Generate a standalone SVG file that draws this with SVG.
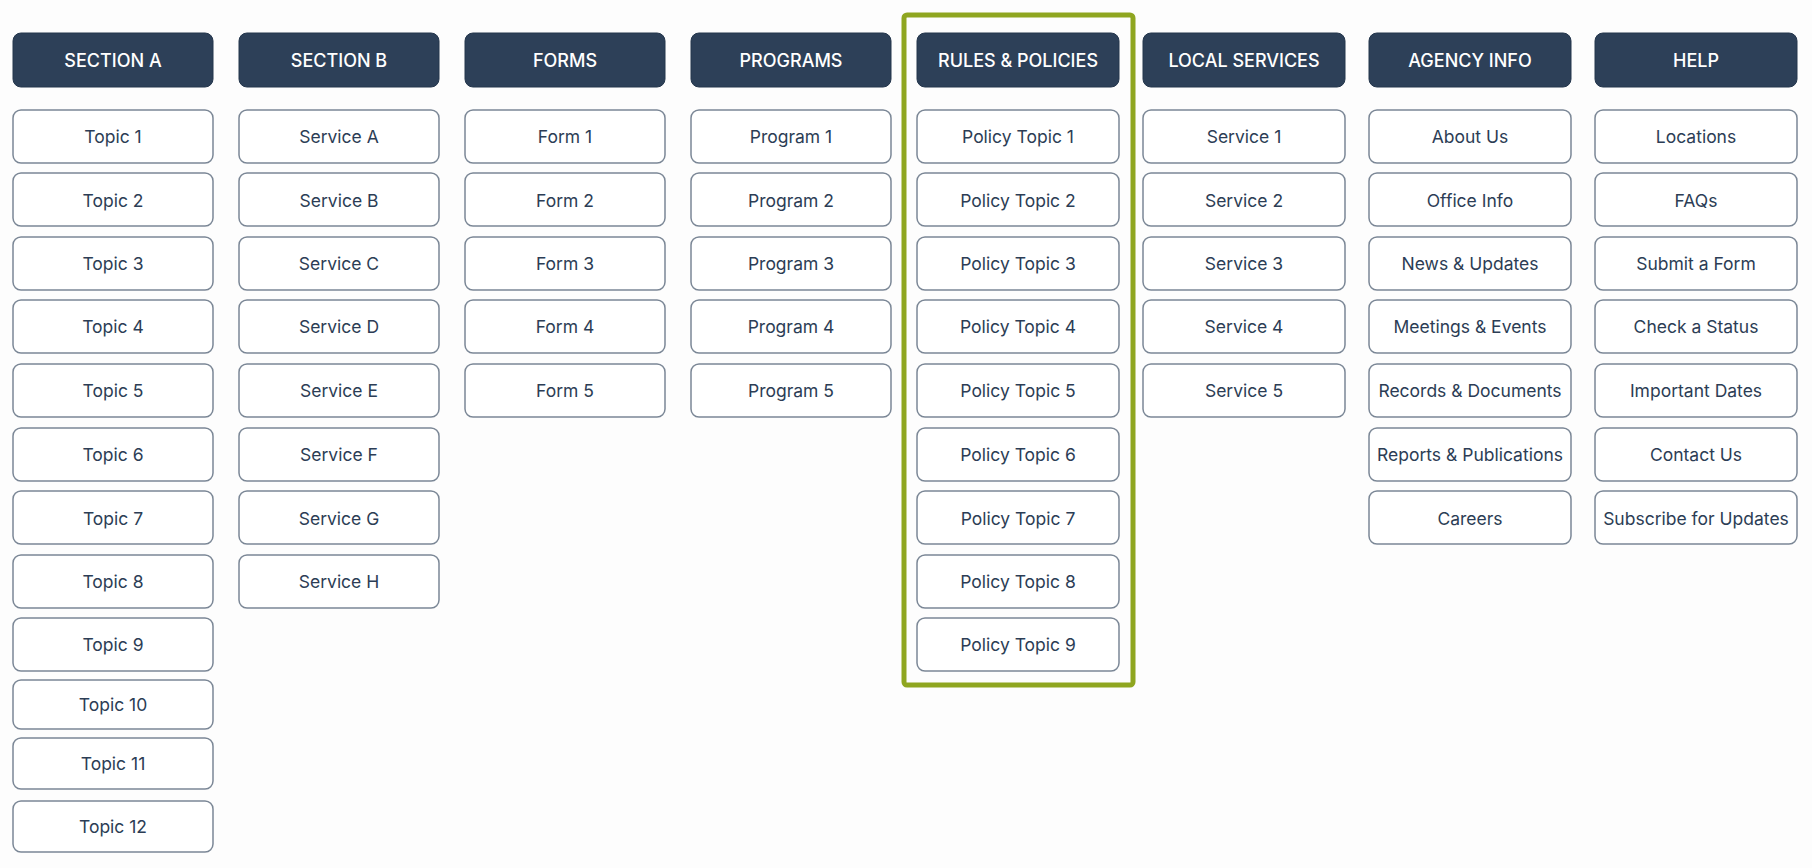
<svg xmlns="http://www.w3.org/2000/svg" width="1812" height="868" viewBox="0 0 1812 868">
<style>
.h rect{fill:#2d4058;stroke:#24364c;stroke-width:1}
.h text{fill:#fff;font-family:Inter,"Liberation Sans",sans-serif;font-size:18px;font-weight:500;text-anchor:middle;dominant-baseline:central}
.n rect{fill:#fff;stroke:#7b8796;stroke-width:1.5}
.n text{fill:#2c3d55;font-family:Inter,"Liberation Sans",sans-serif;font-size:17.5px;text-anchor:middle;dominant-baseline:central}
</style>
<rect width="1812" height="868" fill="#fdfdfd"/>
<g id="highlight"><rect x="904" y="15" width="229" height="670" rx="3" fill="none" stroke="#8fa620" stroke-width="5"/></g>
<g id="connectors"></g>
<g class="h">
<g id="h1"><rect x="13" y="33" width="200" height="54" rx="8"/><text x="113" y="60">SECTION A</text></g>
<g id="h2"><rect x="239" y="33" width="200" height="54" rx="8"/><text x="339" y="60">SECTION B</text></g>
<g id="h3"><rect x="465" y="33" width="200" height="54" rx="8"/><text x="565" y="60">FORMS</text></g>
<g id="h4"><rect x="691" y="33" width="200" height="54" rx="8"/><text x="791" y="60">PROGRAMS</text></g>
<g id="h5"><rect x="917" y="33" width="202" height="54" rx="8"/><text x="1018" y="60">RULES &amp; POLICIES</text></g>
<g id="h6"><rect x="1143" y="33" width="202" height="54" rx="8"/><text x="1244" y="60">LOCAL SERVICES</text></g>
<g id="h7"><rect x="1369" y="33" width="202" height="54" rx="8"/><text x="1470" y="60">AGENCY INFO</text></g>
<g id="h8"><rect x="1595" y="33" width="202" height="54" rx="8"/><text x="1696" y="60">HELP</text></g>
</g>
<g class="n">
<g id="a1"><rect x="13" y="110" width="200" height="53" rx="8"/><text x="113" y="136">Topic 1</text></g>
<g id="a2"><rect x="13" y="173" width="200" height="53" rx="8"/><text x="113" y="200">Topic 2</text></g>
<g id="a3"><rect x="13" y="237" width="200" height="53" rx="8"/><text x="113" y="263">Topic 3</text></g>
<g id="a4"><rect x="13" y="300" width="200" height="53" rx="8"/><text x="113" y="326">Topic 4</text></g>
<g id="a5"><rect x="13" y="364" width="200" height="53" rx="8"/><text x="113" y="390">Topic 5</text></g>
<g id="a6"><rect x="13" y="428" width="200" height="53" rx="8"/><text x="113" y="454">Topic 6</text></g>
<g id="a7"><rect x="13" y="491" width="200" height="53" rx="8"/><text x="113" y="518">Topic 7</text></g>
<g id="a8"><rect x="13" y="555" width="200" height="53" rx="8"/><text x="113" y="581">Topic 8</text></g>
<g id="a9"><rect x="13" y="618" width="200" height="53" rx="8"/><text x="113" y="644">Topic 9</text></g>
<g id="a10"><rect x="13" y="680" width="200" height="49" rx="8"/><text x="113" y="704">Topic 10</text></g>
<g id="a11"><rect x="13" y="738" width="200" height="51" rx="8"/><text x="113" y="763">Topic 11</text></g>
<g id="a12"><rect x="13" y="801" width="200" height="51" rx="8"/><text x="113" y="826">Topic 12</text></g>

<g id="b1"><rect x="239" y="110" width="200" height="53" rx="8"/><text x="339" y="136">Service A</text></g>
<g id="b2"><rect x="239" y="173" width="200" height="53" rx="8"/><text x="339" y="200">Service B</text></g>
<g id="b3"><rect x="239" y="237" width="200" height="53" rx="8"/><text x="339" y="263">Service C</text></g>
<g id="b4"><rect x="239" y="300" width="200" height="53" rx="8"/><text x="339" y="326">Service D</text></g>
<g id="b5"><rect x="239" y="364" width="200" height="53" rx="8"/><text x="339" y="390">Service E</text></g>
<g id="b6"><rect x="239" y="428" width="200" height="53" rx="8"/><text x="339" y="454">Service F</text></g>
<g id="b7"><rect x="239" y="491" width="200" height="53" rx="8"/><text x="339" y="518">Service G</text></g>
<g id="b8"><rect x="239" y="555" width="200" height="53" rx="8"/><text x="339" y="581">Service H</text></g>

<g id="c1"><rect x="465" y="110" width="200" height="53" rx="8"/><text x="565" y="136">Form 1</text></g>
<g id="c2"><rect x="465" y="173" width="200" height="53" rx="8"/><text x="565" y="200">Form 2</text></g>
<g id="c3"><rect x="465" y="237" width="200" height="53" rx="8"/><text x="565" y="263">Form 3</text></g>
<g id="c4"><rect x="465" y="300" width="200" height="53" rx="8"/><text x="565" y="326">Form 4</text></g>
<g id="c5"><rect x="465" y="364" width="200" height="53" rx="8"/><text x="565" y="390">Form 5</text></g>

<g id="d1"><rect x="691" y="110" width="200" height="53" rx="8"/><text x="791" y="136">Program 1</text></g>
<g id="d2"><rect x="691" y="173" width="200" height="53" rx="8"/><text x="791" y="200">Program 2</text></g>
<g id="d3"><rect x="691" y="237" width="200" height="53" rx="8"/><text x="791" y="263">Program 3</text></g>
<g id="d4"><rect x="691" y="300" width="200" height="53" rx="8"/><text x="791" y="326">Program 4</text></g>
<g id="d5"><rect x="691" y="364" width="200" height="53" rx="8"/><text x="791" y="390">Program 5</text></g>

<g id="e1"><rect x="917" y="110" width="202" height="53" rx="8"/><text x="1018" y="136">Policy Topic 1</text></g>
<g id="e2"><rect x="917" y="173" width="202" height="53" rx="8"/><text x="1018" y="200">Policy Topic 2</text></g>
<g id="e3"><rect x="917" y="237" width="202" height="53" rx="8"/><text x="1018" y="263">Policy Topic 3</text></g>
<g id="e4"><rect x="917" y="300" width="202" height="53" rx="8"/><text x="1018" y="326">Policy Topic 4</text></g>
<g id="e5"><rect x="917" y="364" width="202" height="53" rx="8"/><text x="1018" y="390">Policy Topic 5</text></g>
<g id="e6"><rect x="917" y="428" width="202" height="53" rx="8"/><text x="1018" y="454">Policy Topic 6</text></g>
<g id="e7"><rect x="917" y="491" width="202" height="53" rx="8"/><text x="1018" y="518">Policy Topic 7</text></g>
<g id="e8"><rect x="917" y="555" width="202" height="53" rx="8"/><text x="1018" y="581">Policy Topic 8</text></g>
<g id="e9"><rect x="917" y="618" width="202" height="53" rx="8"/><text x="1018" y="644">Policy Topic 9</text></g>

<g id="f1"><rect x="1143" y="110" width="202" height="53" rx="8"/><text x="1244" y="136">Service 1</text></g>
<g id="f2"><rect x="1143" y="173" width="202" height="53" rx="8"/><text x="1244" y="200">Service 2</text></g>
<g id="f3"><rect x="1143" y="237" width="202" height="53" rx="8"/><text x="1244" y="263">Service 3</text></g>
<g id="f4"><rect x="1143" y="300" width="202" height="53" rx="8"/><text x="1244" y="326">Service 4</text></g>
<g id="f5"><rect x="1143" y="364" width="202" height="53" rx="8"/><text x="1244" y="390">Service 5</text></g>

<g id="g1"><rect x="1369" y="110" width="202" height="53" rx="8"/><text x="1470" y="136">About Us</text></g>
<g id="g2"><rect x="1369" y="173" width="202" height="53" rx="8"/><text x="1470" y="200">Office Info</text></g>
<g id="g3"><rect x="1369" y="237" width="202" height="53" rx="8"/><text x="1470" y="263">News &amp; Updates</text></g>
<g id="g4"><rect x="1369" y="300" width="202" height="53" rx="8"/><text x="1470" y="326">Meetings &amp; Events</text></g>
<g id="g5"><rect x="1369" y="364" width="202" height="53" rx="8"/><text x="1470" y="390">Records &amp; Documents</text></g>
<g id="g6"><rect x="1369" y="428" width="202" height="53" rx="8"/><text x="1470" y="454">Reports &amp; Publications</text></g>
<g id="g7"><rect x="1369" y="491" width="202" height="53" rx="8"/><text x="1470" y="518">Careers</text></g>

<g id="k1"><rect x="1595" y="110" width="202" height="53" rx="8"/><text x="1696" y="136">Locations</text></g>
<g id="k2"><rect x="1595" y="173" width="202" height="53" rx="8"/><text x="1696" y="200">FAQs</text></g>
<g id="k3"><rect x="1595" y="237" width="202" height="53" rx="8"/><text x="1696" y="263">Submit a Form</text></g>
<g id="k4"><rect x="1595" y="300" width="202" height="53" rx="8"/><text x="1696" y="326">Check a Status</text></g>
<g id="k5"><rect x="1595" y="364" width="202" height="53" rx="8"/><text x="1696" y="390">Important Dates</text></g>
<g id="k6"><rect x="1595" y="428" width="202" height="53" rx="8"/><text x="1696" y="454">Contact Us</text></g>
<g id="k7"><rect x="1595" y="491" width="202" height="53" rx="8"/><text x="1696" y="518">Subscribe for Updates</text></g>
</g>
</svg>
